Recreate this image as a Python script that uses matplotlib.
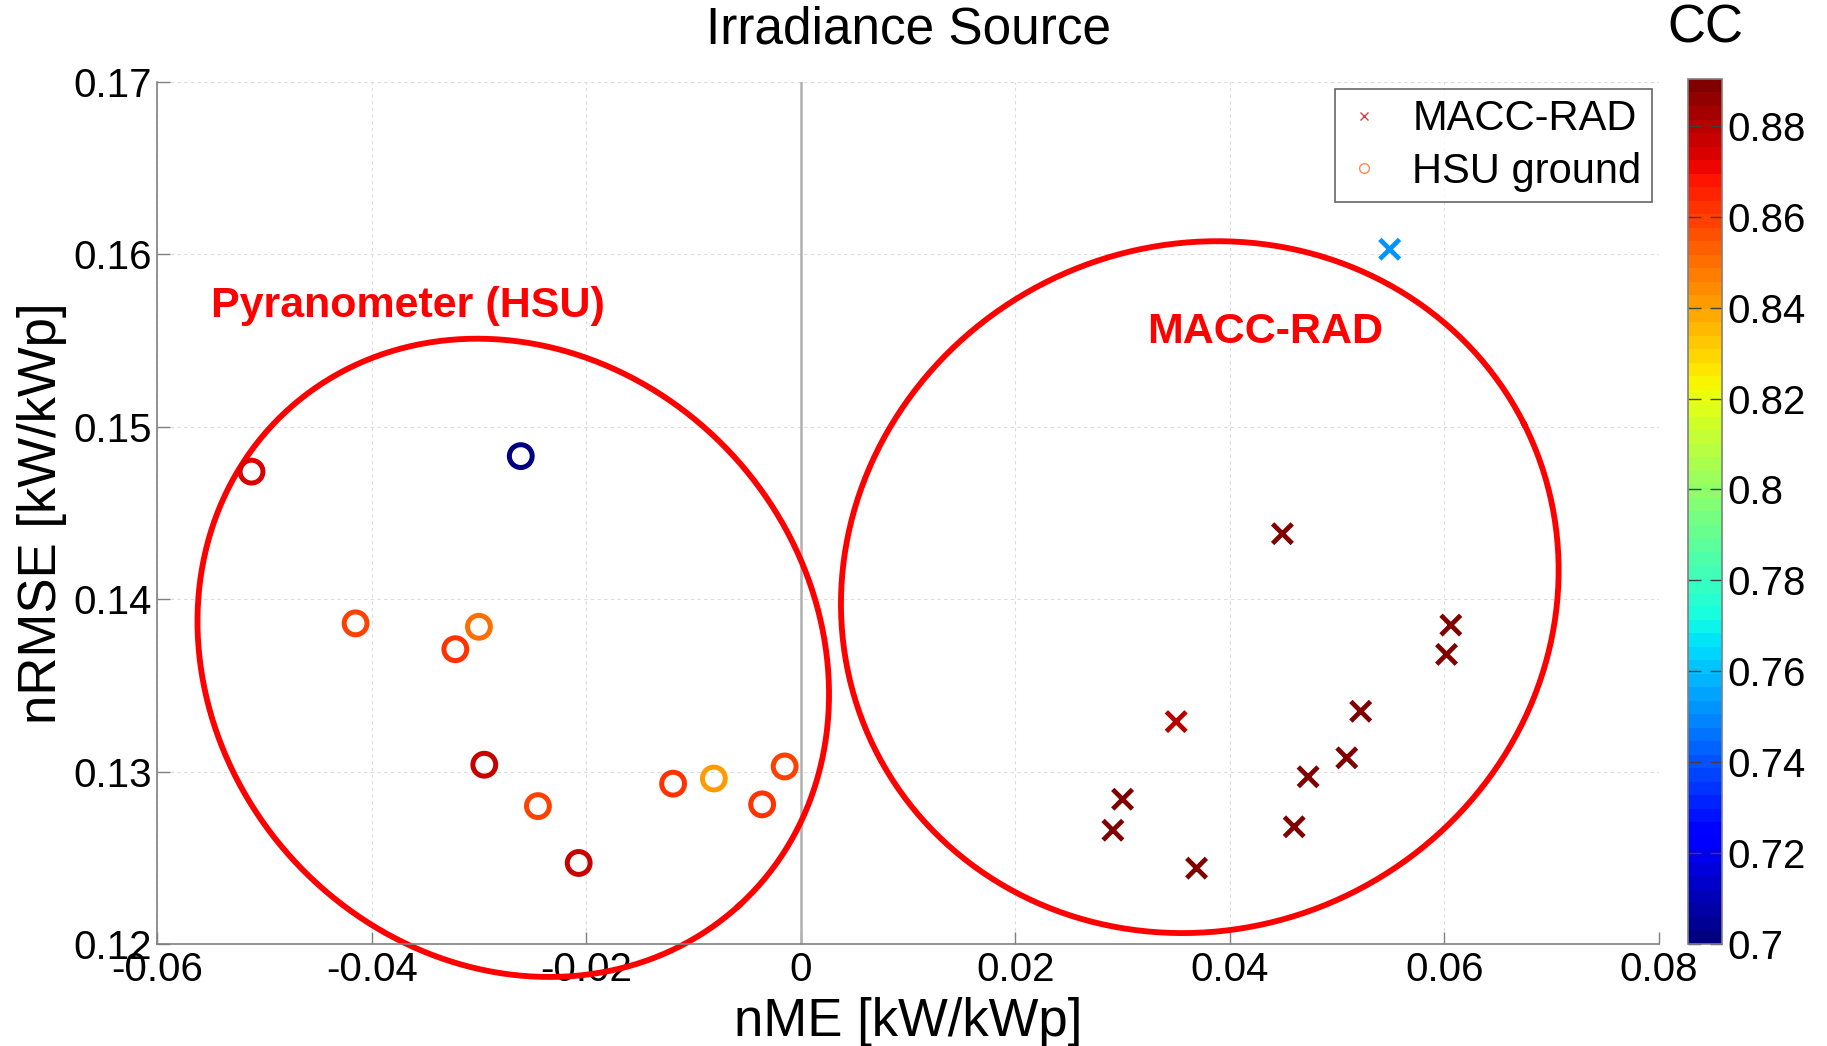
import numpy as np
import matplotlib
matplotlib.use("Agg")
import matplotlib.pyplot as plt
from matplotlib.ticker import FuncFormatter

plt.rcParams['font.family'] = ['Liberation Sans', 'DejaVu Sans']

# HSU ground (pyranometer) results
hsu_nme = [-0.0512, -0.0261, -0.0415, -0.0300, -0.0322, -0.0295,
           -0.0245, -0.0207, -0.0119, -0.0081, -0.0036, -0.0015]
hsu_nrmse = [0.1474, 0.1483, 0.1386, 0.1384, 0.1371, 0.1304,
             0.1280, 0.1247, 0.1293, 0.1296, 0.1281, 0.1303]
hsu_cc = [0.874, 0.700, 0.860, 0.851, 0.862, 0.876,
          0.860, 0.876, 0.861, 0.841, 0.861, 0.860]

# MACC-RAD results
macc_nme = [0.0549, 0.0449, 0.0606, 0.0602, 0.0350, 0.0522,
            0.0509, 0.0473, 0.0300, 0.0291, 0.0460, 0.0369]
macc_nrmse = [0.1603, 0.1438, 0.1385, 0.1368, 0.1329, 0.1335,
              0.1308, 0.1297, 0.1284, 0.1266, 0.1268, 0.1244]
macc_cc = [0.752, 0.890, 0.890, 0.889, 0.881, 0.889,
           0.889, 0.890, 0.889, 0.890, 0.889, 0.890]

xticks = [-0.06, -0.04, -0.02, 0, 0.02, 0.04, 0.06, 0.08]
yticks = [0.12, 0.13, 0.14, 0.15, 0.16, 0.17]
cticks = [0.70, 0.72, 0.74, 0.76, 0.78, 0.80, 0.82, 0.84, 0.86, 0.88]
cmin, cmax = 0.70, 0.8903

cmap = matplotlib.colormaps['jet'].resampled(64)
norm = matplotlib.colors.Normalize(cmin, cmax)
fmt = FuncFormatter(lambda v, p: '%g' % round(v, 4))

fig = plt.figure(figsize=(18.27, 10.46), dpi=100)
ax = fig.add_axes([0.086, 0.0975, 0.822, 0.8241])
cax = fig.add_axes([0.924, 0.0975, 0.0186, 0.8270])

ax.set_xlim(-0.06, 0.08)
ax.set_ylim(0.12, 0.17)
ax.grid(True, color='#dcdcdc', linestyle=(0, (3, 3)), linewidth=0.8)
ax.set_axisbelow(True)
ax.axvline(0, color='#b0b0b0', linewidth=1.8, zorder=1)

ax.scatter(hsu_nme, hsu_nrmse, marker='o', s=270, facecolors='none',
           edgecolors=cmap(norm(np.array(hsu_cc))), linewidths=3.6, zorder=3)
ax.scatter(macc_nme, macc_nrmse, c=macc_cc, cmap=cmap, norm=norm, marker='x',
           s=200, linewidths=3.4, zorder=3)

# legend proxies
ax.plot([], [], 'x', color='#e03a3a', markersize=6, mew=1, label='MACC-RAD')
ax.plot([], [], 'o', mfc='none', mec='#ff8c50', markersize=7, mew=1, label='HSU ground')
leg = ax.legend(loc='upper right', fontsize=30, frameon=True, fancybox=False,
                edgecolor='#404040', handlelength=0.9, handletextpad=0.7,
                borderpad=0.25, labelspacing=0.3, borderaxespad=0,
                bbox_to_anchor=(0.9953, 0.992))
leg.get_frame().set_linewidth(1.2)

# highlight ellipses, drawn in pixel units then mapped to data
px_x = 1289 / 0.14 * 1.165   # px per data unit (x), full size
px_y = 740 / 0.05 * 1.165    # px per data unit (y)


def ellipse(cx, cy, a, b, ang):
    t = np.linspace(0, 2 * np.pi, 400)
    r = np.deg2rad(ang)
    u, v = a * np.cos(t), b * np.sin(t)
    dx = u * np.cos(r) - v * np.sin(r)
    dy = u * np.sin(r) + v * np.cos(r)
    return cx + dx / px_x, cy + dy / px_y


ex, ey = ellipse(-0.0268, 0.1366, 287.7 * 1.165, 256.4 * 1.165, -47.7)
ax.plot(ex, ey, color='#ff0000', linewidth=4.2, zorder=2, clip_on=False)
ex, ey = ellipse(0.0372, 0.1407, 311.6 * 1.165, 293.2 * 1.165, 26.6)
ax.plot(ex, ey, color='#ff0000', linewidth=4.2, zorder=2, clip_on=False)

ax.text(-0.03665, 0.1570, 'Pyranometer (HSU)', color='#ff0000', fontsize=31,
        fontweight='bold', ha='center', va='center')
ax.text(0.0433, 0.1555, 'MACC-RAD', color='#ff0000', fontsize=31,
        fontweight='bold', ha='center', va='center')

ax.set_xticks(xticks)
ax.set_yticks(yticks)
ax.xaxis.set_major_formatter(fmt)
ax.yaxis.set_major_formatter(fmt)
ax.tick_params(direction='in', length=9, width=1, color='#808080',
               labelsize=29, pad=4)
ax.tick_params(axis='x', pad=5)
for s in ['top', 'right']:
    ax.spines[s].set_visible(False)
for s in ['left', 'bottom']:
    ax.spines[s].set_color('#808080')
    ax.spines[s].set_linewidth(1.2)

ax.set_xlabel('nME [kW/kWp]', fontsize=38, labelpad=6)
ax.set_ylabel('nRMSE [kW/kWp]', fontsize=38, labelpad=4)
ax.set_title('Irradiance Source', fontsize=37, pad=28)

sm = matplotlib.cm.ScalarMappable(norm=norm, cmap=cmap)
cb = fig.colorbar(sm, cax=cax, ticks=cticks)
cb.ax.yaxis.set_major_formatter(fmt)
cb.ax.tick_params(direction='in', length=9, width=1, color='#404040',
                  labelsize=29, pad=4, left=True)
cb.outline.set_edgecolor('#808080')
cb.outline.set_linewidth(1.2)
cax.set_title('CC', fontsize=38, pad=26)

fig.savefig('out.png', dpi=100)
